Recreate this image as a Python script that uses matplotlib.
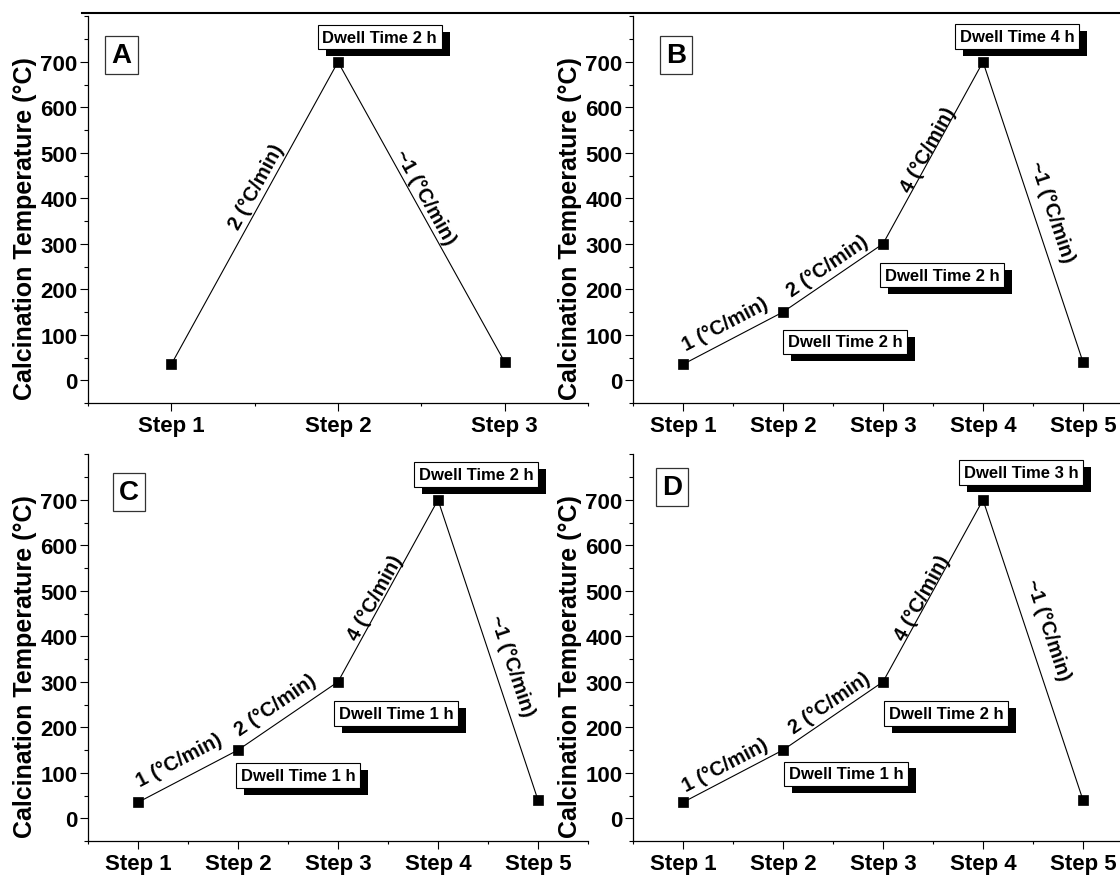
import matplotlib
matplotlib.use("Agg")
import numpy as np
import matplotlib.pyplot as plt
import matplotlib.patheffects as pe
from matplotlib.lines import Line2D
from matplotlib.ticker import MultipleLocator

plt.rcParams['font.family'] = ['Liberation Sans', 'DejaVu Sans']
plt.rcParams['font.weight'] = 'bold'

# ---------------- data ----------------
steps_A = ["Step 1", "Step 2", "Step 3"]
steps_BCD = ["Step 1", "Step 2", "Step 3", "Step 4", "Step 5"]
temp_A = [35, 700, 40]
temp_B = [35, 150, 300, 700, 40]
temp_C = [35, 150, 300, 700, 40]
temp_D = [35, 150, 300, 700, 40]
rates_A = ["2 (°C/min)", "~1 (°C/min)"]
rates_BCD = ["1 (°C/min)", "2 (°C/min)", "4 (°C/min)", "~1 (°C/min)"]
dwell_A = ["Dwell Time 2 h"]
dwell_B = ["Dwell Time 2 h", "Dwell Time 2 h", "Dwell Time 4 h"]
dwell_C = ["Dwell Time 1 h", "Dwell Time 1 h", "Dwell Time 2 h"]
dwell_D = ["Dwell Time 1 h", "Dwell Time 2 h", "Dwell Time 3 h"]
panel_letters = ["A", "B", "C", "D"]
y_label = "Calcination Temperature (°C)"
y_ticks = [0, 100, 200, 300, 400, 500, 600, 700]

# ---------------- layout ----------------
W, H = 1120, 878
fig = plt.figure(figsize=(W / 100, H / 100), dpi=100)

ax_w, ax_h = 500 / W, 386.6 / H
lefts = [88 / W, 633 / W, 88 / W, 633 / W]
bottoms = [1 - 404 / H, 1 - 404 / H, 1 - 842 / H, 1 - 842 / H]

rate_pos = [
    [(1.51, 426), (2.52, 404)],
    [(1.42, 125), (2.45, 252), (3.45, 509), (4.69, 371)],
    [(1.41, 129), (2.38, 250), (3.37, 487), (4.74, 336)],
    [(1.42, 118), (2.47, 255), (3.39, 487), (4.65, 415)],
]
dwell_pos = [
    [(2.25, 754)],
    [(2.62, 84.5), (3.59, 231), (4.34, 756)],
    [(2.60, 94), (3.58, 230), (4.38, 756)],
    [(2.63, 98), (3.63, 230), (4.38, 760)],
]
letter_pos = [(0.067, 0.90), (0.086, 0.90), (0.082, 0.902), (0.078, 0.915)]

panels = [
    (steps_A, temp_A, rates_A, dwell_A),
    (steps_BCD, temp_B, rates_BCD, dwell_B),
    (steps_BCD, temp_C, rates_BCD, dwell_C),
    (steps_BCD, temp_D, rates_BCD, dwell_D),
]

for i, (steps, temps, rates, dwells) in enumerate(panels):
    ax = fig.add_axes([lefts[i], bottoms[i], ax_w, ax_h])
    x = np.arange(1, len(steps) + 1)
    ax.plot(x, temps, color='black', lw=0.8, marker='s', ms=6.5,
            mfc='black', mec='black', mew=0.5, zorder=3)
    ax.set_xlim(0.5, len(steps) + 0.5)
    ax.set_ylim(-50, 800)
    ax.set_xticks(x)
    ax.set_xticklabels(steps, fontsize=16, fontweight='bold')
    ax.xaxis.set_minor_locator(MultipleLocator(0.5))
    ax.set_yticks(y_ticks)
    ax.set_yticklabels([str(v) for v in y_ticks], fontsize=16, fontweight='bold')
    ax.yaxis.set_minor_locator(MultipleLocator(50))
    ax.tick_params(axis='both', which='major', direction='out', length=6,
                   width=0.8, color='black')
    ax.tick_params(axis='y', which='major', pad=1.5)
    ax.tick_params(axis='x', which='major', pad=3)
    ax.tick_params(axis='y', which='minor', direction='out', length=3, width=0.8)
    ax.tick_params(axis='x', which='minor', direction='out', length=2, width=0.8)
    for s in ['top', 'right']:
        ax.spines[s].set_visible(False)
    for s in ['left', 'bottom']:
        ax.spines[s].set_linewidth(0.9)

    ax.text(-0.126, 0.453, y_label, rotation=90, ha='center', va='center',
            transform=ax.transAxes, fontsize=18, fontweight='bold')

    # panel letter
    lx, ly = letter_pos[i]
    ax.text(lx, ly, panel_letters[i], transform=ax.transAxes, ha='center',
            va='center', fontsize=20, fontweight='bold',
            bbox=dict(boxstyle='square,pad=0.22', fc='white', ec='#333333', lw=0.9))

    # rate labels
    for j, txt in enumerate(rates):
        p1 = ax.transData.transform((x[j], temps[j]))
        p2 = ax.transData.transform((x[j + 1], temps[j + 1]))
        ang = np.degrees(np.arctan2(p2[1] - p1[1], p2[0] - p1[0]))
        tx, ty = rate_pos[i][j]
        ax.text(tx, ty, txt, rotation=ang, rotation_mode='anchor',
                ha='center', va='center', fontsize=14.5, fontweight='bold')

    # dwell labels with shadow
    for j, txt in enumerate(dwells):
        tx, ty = dwell_pos[i][j]
        t = ax.text(tx, ty, txt, ha='center', va='center', fontsize=12,
                    fontweight='bold', zorder=5,
                    bbox=dict(boxstyle='square,pad=0.28', fc='white', ec='black', lw=0.8))
        t.get_bbox_patch().set_path_effects([
            pe.SimplePatchShadow(offset=(6, -5), shadow_rgbFace='black', alpha=1.0),
            pe.Normal()])

fig.add_artist(Line2D([82 / W, 1.0], [1 - 14 / H, 1 - 14 / H],
                      transform=fig.transFigure, color='black', lw=1.5))

fig.savefig("out.png", dpi=100)
